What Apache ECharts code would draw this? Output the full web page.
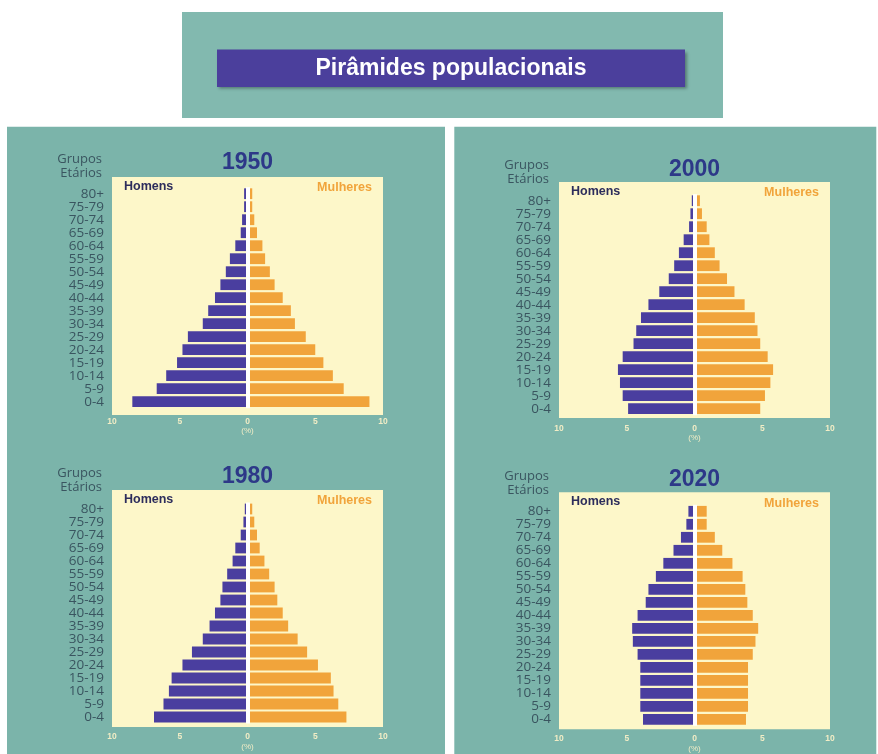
<!DOCTYPE html>
<html>
<head>
<meta charset="utf-8">
<style>html,body{margin:0;padding:0;background:#fff;}#c{width:878px;height:754px;}</style>
<script src="https://cdn.jsdelivr.net/npm/echarts@6/dist/echarts.min.js"></script>
</head>
<body>
<div id="c"></div>
<script>
// ---- data (youngest to oldest) ----
const ageGroups = ['0-4','5-9','10-14','15-19','20-24','25-29','30-34','35-39','40-44','45-49','50-54','55-59','60-64','65-69','70-74','75-79','80+'];
const years = ['1950','1980','2000','2020'];
const men1950   = [8.5, 6.7, 6.0, 5.2, 4.8, 4.4, 3.3, 2.9, 2.4, 2.0, 1.6, 1.3, 0.9, 0.5, 0.4, 0.25, 0.25];
const women1950 = [9.0, 7.1, 6.3, 5.6, 5.0, 4.3, 3.5, 3.2, 2.6, 2.0, 1.65, 1.3, 1.1, 0.7, 0.5, 0.35, 0.35];
const men1980   = [6.9, 6.2, 5.8, 5.6, 4.8, 4.1, 3.3, 2.8, 2.4, 2.0, 1.85, 1.5, 1.1, 0.9, 0.5, 0.3, 0.2];
const women1980 = [7.3, 6.7, 6.35, 6.15, 5.2, 4.4, 3.7, 3.0, 2.6, 2.2, 2.0, 1.6, 1.25, 0.9, 0.7, 0.5, 0.35];
const men2000   = [4.9, 5.3, 5.5, 5.65, 5.3, 4.5, 4.3, 3.95, 3.4, 2.6, 1.9, 1.5, 1.15, 0.8, 0.4, 0.3, 0.2];
const women2000 = [4.85, 5.2, 5.6, 5.8, 5.4, 4.85, 4.65, 4.45, 3.7, 2.95, 2.4, 1.85, 1.5, 1.1, 0.9, 0.55, 0.4];
const men2020   = [3.8, 4.0, 4.0, 4.0, 4.0, 4.2, 4.55, 4.6, 4.2, 3.6, 3.4, 2.85, 2.3, 1.55, 1.0, 0.6, 0.45];
const women2020 = [3.8, 3.95, 3.95, 3.95, 3.95, 4.3, 4.5, 4.7, 4.3, 3.9, 3.75, 3.55, 2.8, 2.05, 1.5, 0.9, 0.9];
const menSeries = [men1950, men1980, men2000, men2020];
const womenSeries = [women1950, women1980, women2000, women2020];
const mainTitle = 'Pirâmides populacionais';
const axisTitle = 'Grupos\nEtários';
const menLabel = 'Homens';
const womenLabel = 'Mulheres';

// ---- layout / style ----
const layout = [
  {box:[112, 177, 271, 238], gridTop:187.2, yearY:163, axisTitleTop:152},
  {box:[112, 490, 271, 237], gridTop:502.5, yearY:477, axisTitleTop:466},
  {box:[559, 182, 271, 236], gridTop:194.2, yearY:170, axisTitleTop:158},
  {box:[559, 492.3, 271, 237], gridTop:504.8, yearY:480, axisTitleTop:469.5}
];
const BAND_H = 221;
const C = {
  teal:'#7bb4aa', tealTitle:'#82b9af', banner:'#4b3f9c', cream:'#fdf7c9',
  blue:'#4a3e9f', orange:'#f1a43b', year:'#2d3888', cat:'#3a5560',
  men:'#2d2d5c', tick:'#f2edc6'
};
const SANS = '"Liberation Sans", Arial, sans-serif';
const HUM = '"Open Sans", "Noto Sans", sans-serif';

const grids = [], xAxes = [], yAxes = [], series = [], titles = [], graphics = [];

// page decorations
graphics.push({type:'rect', z:-10, silent:true, shape:{x:182, y:12, width:541, height:106}, style:{fill:C.tealTitle}});
graphics.push({type:'rect', z:-9, silent:true, shape:{x:217, y:49.5, width:468, height:37.5},
  style:{fill:C.banner, shadowBlur:3, shadowColor:'rgba(0,0,0,0.35)', shadowOffsetX:2, shadowOffsetY:2}});
graphics.push({type:'rect', z:-10, silent:true, shape:{x:7, y:126.7, width:438, height:628}, style:{fill:C.teal}});
graphics.push({type:'rect', z:-10, silent:true, shape:{x:454.3, y:126.7, width:422, height:628}, style:{fill:C.teal}});

titles.push({text:mainTitle, left:451, top:68.5, textAlign:'center', textVerticalAlign:'middle', padding:0,
  textStyle:{color:'#ffffff', fontFamily:SANS, fontWeight:'bold', fontSize:23}});

layout.forEach((L, i) => {
  const [bx, by, bw, bh] = L.box;
  graphics.push({type:'rect', z:-5, silent:true, shape:{x:bx, y:by, width:bw, height:bh}, style:{fill:C.cream}});
  grids.push({left:bx, top:L.gridTop, width:bw, height:BAND_H, containLabel:false});
  xAxes.push({
    type:'value', gridIndex:i, min:-10, max:10, interval:5,
    axisLine:{show:false}, axisTick:{show:false}, splitLine:{show:false},
    axisLabel:{color:C.tick, fontSize:8.5, fontWeight:'bold', fontFamily:SANS, margin:8.5,
      formatter:v => String(Math.abs(v))},
    name:'(%)', nameLocation:'middle', nameGap:19,
    nameTextStyle:{color:C.tick, fontSize:8, fontFamily:SANS}
  });
  yAxes.push({
    type:'category', gridIndex:i, data:ageGroups,
    axisLine:{show:false}, axisTick:{show:false}, splitLine:{show:false},
    axisLabel:{color:C.cat, fontSize:13.5, fontFamily:HUM, margin:8, interval:0}
  });
  series.push({
    type:'bar', name:menLabel, xAxisIndex:i, yAxisIndex:i, stack:'p'+i, barCategoryGap:'17%',
    data:menSeries[i].map(v => -v), itemStyle:{color:C.blue}, silent:true
  });
  series.push({
    type:'bar', name:womenLabel, xAxisIndex:i, yAxisIndex:i, stack:'p'+i, barCategoryGap:'17%',
    data:womenSeries[i], itemStyle:{color:C.orange}, silent:true,
    markLine:{silent:true, symbol:['none','none'], label:{show:false},
      lineStyle:{color:'#ffffff', width:4, type:'solid'}, data:[{xAxis:0}]}
  });
  titles.push({text:axisTitle, left:bx - 10, top:L.axisTitleTop, textAlign:'right', textVerticalAlign:'top', padding:0,
    textStyle:{color:C.cat, fontFamily:HUM, fontWeight:'normal', fontSize:13, lineHeight:14}});
  titles.push({text:years[i], left:bx + bw/2, top:L.yearY, textAlign:'center', textVerticalAlign:'middle', padding:0,
    textStyle:{color:C.year, fontFamily:SANS, fontWeight:'bold', fontSize:23}});
  titles.push({text:menLabel, left:bx + 12, top:by + 9.5, textAlign:'left', textVerticalAlign:'middle', padding:0,
    textStyle:{color:C.men, fontFamily:SANS, fontWeight:'bold', fontSize:12.5}});
  titles.push({text:womenLabel, left:bx + bw - 11, top:by + 11, textAlign:'right', textVerticalAlign:'middle', padding:0,
    textStyle:{color:C.orange, fontFamily:SANS, fontWeight:'bold', fontSize:12.5}});
});

const chart = echarts.init(document.getElementById('c'), null, {renderer:'canvas'});
chart.setOption({
  backgroundColor:'#ffffff',
  animation:false,
  title:titles,
  graphic:{elements:graphics},
  grid:grids,
  xAxis:xAxes,
  yAxis:yAxes,
  series:series
});
</script>
</body>
</html>
